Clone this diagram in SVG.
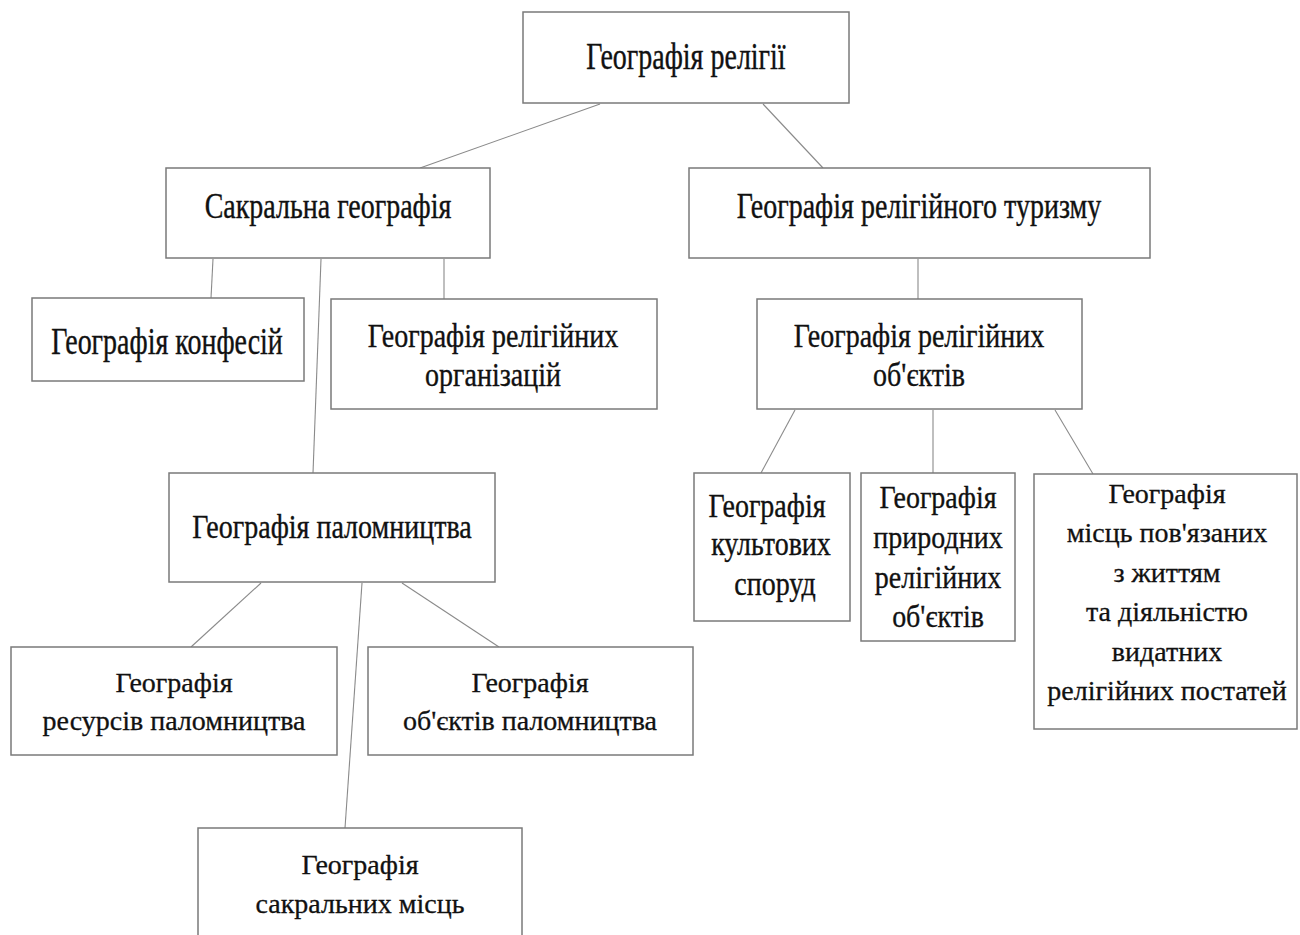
<svg xmlns="http://www.w3.org/2000/svg" width="1300" height="935" viewBox="0 0 1300 935">
<style>
.box{fill:#fff;stroke:#7a7a7a;stroke-width:1.5}
.conn line{stroke:#8a8a8a;stroke-width:1.1}
text{font-family:"Liberation Serif","Times New Roman",serif;font-size:28px;fill:#111;stroke:#111;stroke-width:0.3;text-anchor:middle}
</style>
<rect width="1300" height="935" fill="#fff"/>
<g class="conn" id="connectors">
<line x1="600" y1="104" x2="420" y2="168"/>
<line x1="763" y1="104" x2="823" y2="168"/>
<line x1="213" y1="259" x2="211" y2="298"/>
<line x1="321" y1="259" x2="313" y2="473"/>
<line x1="444" y1="259" x2="444" y2="299"/>
<line x1="918" y1="259" x2="918" y2="299"/>
<line x1="795" y1="410" x2="761" y2="473"/>
<line x1="933" y1="410" x2="933" y2="473"/>
<line x1="1055" y1="410" x2="1093" y2="474"/>
<line x1="261" y1="583" x2="191" y2="647"/>
<line x1="362" y1="583" x2="345" y2="828"/>
<line x1="402" y1="583" x2="499" y2="647"/>
</g>
<g id="n-root"><rect class="box" x="523" y="12" width="326" height="91"/>
<text transform="translate(686,69) scale(1,1.32)">Географія релігії</text></g>
<g id="n-sacral"><rect class="box" x="166" y="168" width="324" height="90"/>
<text transform="translate(328,218) scale(1,1.27)">Сакральна географія</text></g>
<g id="n-tourism"><rect class="box" x="689" y="168" width="461" height="90"/>
<text transform="translate(919,218) scale(1,1.27)">Географія релігійного туризму</text></g>
<g id="n-conf"><rect class="box" x="32" y="298" width="272" height="83"/>
<text transform="translate(167,354) scale(1,1.32)">Географія конфесій</text></g>
<g id="n-org"><rect class="box" x="331" y="299" width="326" height="110"/>
<text transform="translate(493,347) scale(1,1.22)">Географія релігійних</text>
<text transform="translate(493,386) scale(1,1.22)">організацій</text></g>
<g id="n-pilg"><rect class="box" x="169" y="473" width="326" height="109"/>
<text transform="translate(332,538) scale(1,1.17)">Географія паломництва</text></g>
<g id="n-relobj"><rect class="box" x="757" y="299" width="325" height="110"/>
<text transform="translate(919,347) scale(1,1.17)">Географія релігійних</text>
<text transform="translate(919,386) scale(1,1.17)">об'єктів</text></g>
<g id="n-cult"><rect class="box" x="694" y="473" width="156" height="148"/>
<text transform="translate(767,517) scale(1,1.17)">Географія</text>
<text transform="translate(771,555) scale(1,1.17)">культових</text>
<text transform="translate(775,595) scale(1,1.17)">споруд</text></g>
<g id="n-nat"><rect class="box" x="861" y="473" width="154" height="168"/>
<text transform="translate(938,508) scale(1,1.1)">Географія</text>
<text transform="translate(938,548) scale(1,1.1)">природних</text>
<text transform="translate(938,588) scale(1,1.1)">релігійних</text>
<text transform="translate(938,627) scale(1,1.1)">об'єктів</text></g>
<g id="n-persons"><rect class="box" x="1034" y="474" width="263" height="255"/>
<text x="1167" y="503">Географія</text>
<text x="1167" y="542">місць пов'язаних</text>
<text x="1167" y="582">з життям</text>
<text x="1167" y="621">та діяльністю</text>
<text x="1167" y="661">видатних</text>
<text x="1167" y="700">релігійних постатей</text></g>
<g id="n-res"><rect class="box" x="11" y="647" width="326" height="108"/>
<text x="174" y="692">Географія</text>
<text x="174" y="730">ресурсів паломництва</text></g>
<g id="n-objp"><rect class="box" x="368" y="647" width="325" height="108"/>
<text x="530" y="692">Географія</text>
<text x="530" y="730">об'єктів паломництва</text></g>
<g id="n-places"><rect class="box" x="198" y="828" width="324" height="130"/>
<text x="360" y="874">Географія</text>
<text x="360" y="913">сакральних місць</text></g>
</svg>
